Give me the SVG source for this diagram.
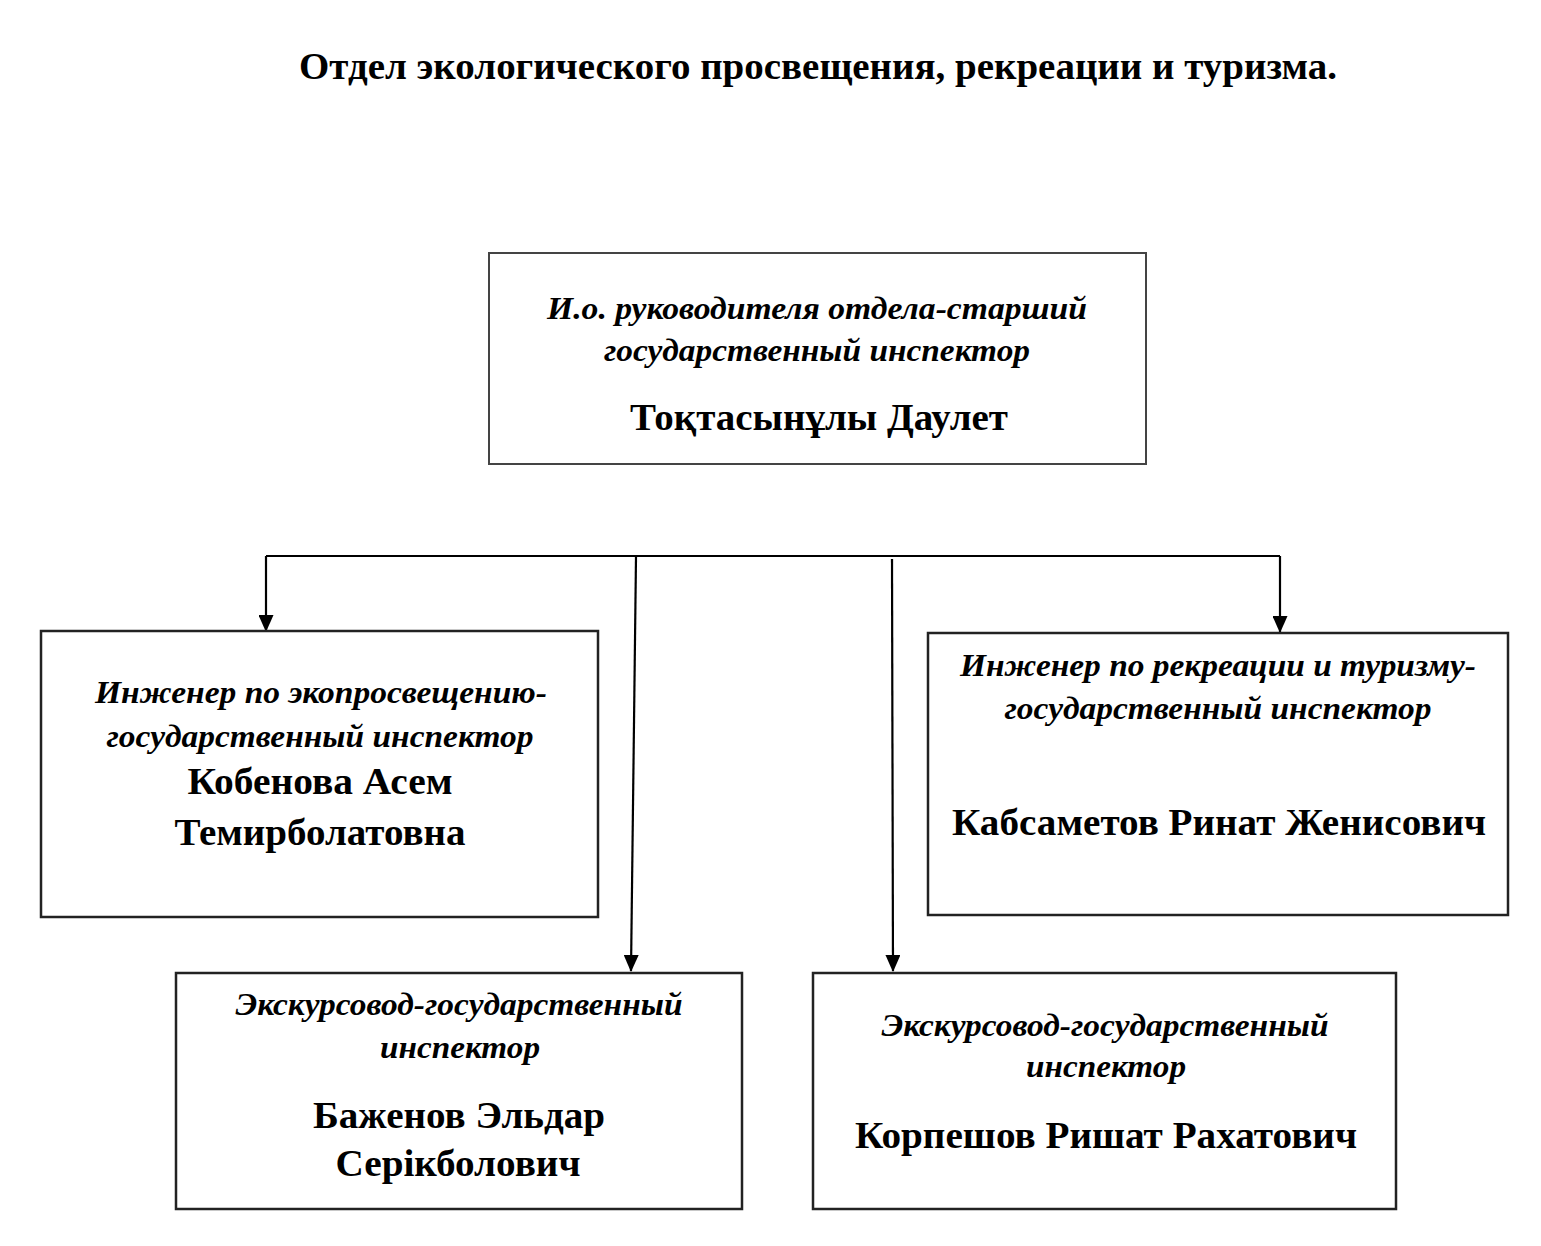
<svg xmlns="http://www.w3.org/2000/svg" width="1541" height="1246" viewBox="0 0 1541 1246">
<defs>
<marker id="arr" markerUnits="userSpaceOnUse" markerWidth="17" markerHeight="15" refX="16" refY="7.5" orient="auto">
<path d="M0,0 L17,7.5 L0,15 z" fill="#000"/>
</marker>
<style>
.box{fill:#fff;stroke:#222;stroke-width:2.5}
.top{stroke:#444;stroke-width:2}
.role{font-family:"Times New Roman","Liberation Serif",serif;font-style:italic;font-weight:bold;font-size:31px;fill:#000;text-anchor:middle}
.name{font-family:"Times New Roman","Liberation Serif",serif;font-weight:bold;font-size:38px;fill:#000;text-anchor:middle}
.title{font-family:"Times New Roman","Liberation Serif",serif;font-weight:bold;font-size:37px;fill:#000;text-anchor:middle}
.ln{fill:none;stroke:#000;stroke-width:2.2}
</style>
</defs>
<rect width="1541" height="1246" fill="#fff"/>
<text class="title" x="818" y="79" textLength="1038" lengthAdjust="spacingAndGlyphs">Отдел экологического просвещения, рекреации и туризма.</text>

<g id="connectors">
<path class="ln" d="M266 556 H1280" stroke-width="1.6"/>
<path class="ln" d="M266 556 V631" marker-end="url(#arr)"/>
<path class="ln" d="M636 557 L631 971" marker-end="url(#arr)"/>
<path class="ln" d="M892 559 L893 971" marker-end="url(#arr)"/>
<path class="ln" d="M1280 556 V632" marker-end="url(#arr)"/>
</g>

<g id="head">
<rect class="box top" x="489" y="253" width="657" height="211"/>
<text class="role" x="817" y="319" textLength="540" lengthAdjust="spacingAndGlyphs">И.о. руководителя отдела-старший</text>
<text class="role" x="817" y="361" textLength="426" lengthAdjust="spacingAndGlyphs">государственный инспектор</text>
<text class="name" x="819" y="430" textLength="378" lengthAdjust="spacingAndGlyphs">Тоқтасынұлы Даулет</text>
</g>

<g id="eco">
<rect class="box" x="41" y="631" width="557" height="286"/>
<text class="role" x="321" y="703" textLength="452" lengthAdjust="spacingAndGlyphs">Инженер по экопросвещению-</text>
<text class="role" x="320" y="747" textLength="427" lengthAdjust="spacingAndGlyphs">государственный инспектор</text>
<text class="name" x="320" y="794" textLength="265" lengthAdjust="spacingAndGlyphs">Кобенова Асем</text>
<text class="name" x="320" y="845" textLength="291" lengthAdjust="spacingAndGlyphs">Темирболатовна</text>
</g>

<g id="recr">
<rect class="box" x="928" y="633" width="580" height="282"/>
<text class="role" x="1218" y="676" textLength="516" lengthAdjust="spacingAndGlyphs">Инженер по рекреации и туризму-</text>
<text class="role" x="1218" y="719" textLength="427" lengthAdjust="spacingAndGlyphs">государственный инспектор</text>
<text class="name" x="1219" y="835" textLength="534" lengthAdjust="spacingAndGlyphs">Кабсаметов Ринат Женисович</text>
</g>

<g id="guide1">
<rect class="box" x="176" y="973" width="566" height="236"/>
<text class="role" x="459" y="1015" textLength="447" lengthAdjust="spacingAndGlyphs">Экскурсовод-государственный</text>
<text class="role" x="460" y="1058" textLength="160" lengthAdjust="spacingAndGlyphs">инспектор</text>
<text class="name" x="459" y="1128" textLength="292" lengthAdjust="spacingAndGlyphs">Баженов Эльдар</text>
<text class="name" x="458" y="1176" textLength="245" lengthAdjust="spacingAndGlyphs">Серікболович</text>
</g>

<g id="guide2">
<rect class="box" x="813" y="973" width="583" height="236"/>
<text class="role" x="1105" y="1036" textLength="447" lengthAdjust="spacingAndGlyphs">Экскурсовод-государственный</text>
<text class="role" x="1106" y="1077" textLength="160" lengthAdjust="spacingAndGlyphs">инспектор</text>
<text class="name" x="1106" y="1148" textLength="502" lengthAdjust="spacingAndGlyphs">Корпешов Ришат Рахатович</text>
</g>
</svg>
